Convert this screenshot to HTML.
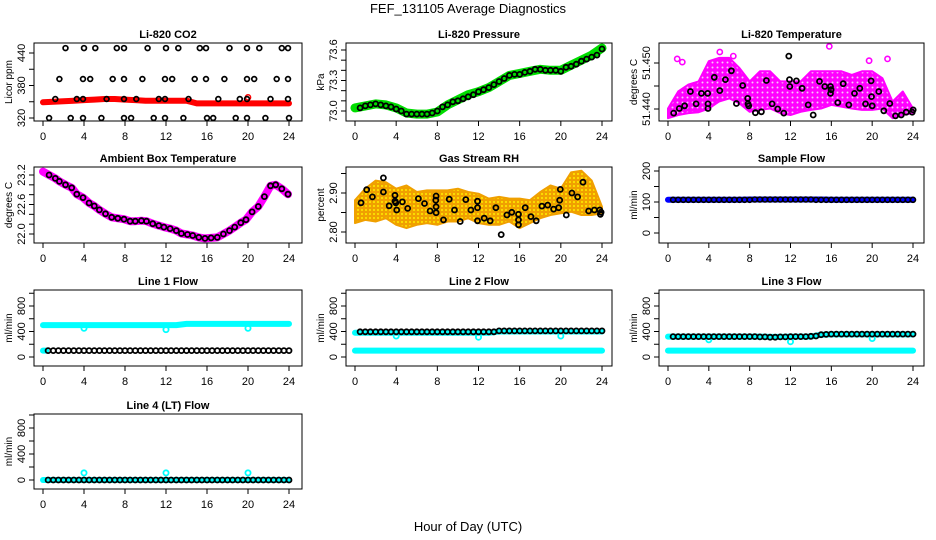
<!DOCTYPE html>
<html><head><meta charset="utf-8">
<style>
html,body{margin:0;padding:0;background:#fff;}
svg{display:block;font-family:"Liberation Sans",Arial,sans-serif;}
</style></head>
<body>
<svg id="fig" width="936" height="540" viewBox="0 0 936 540" xmlns="http://www.w3.org/2000/svg">
<defs>
<pattern id="magPat" width="5" height="5" patternUnits="userSpaceOnUse">
<rect width="5" height="5" fill="#ff00ff"/>
<circle cx="2.5" cy="2.5" r="1" fill="#f8c8f8"/>
</pattern>
<pattern id="orPat" width="4" height="4" patternUnits="userSpaceOnUse">
<rect width="4" height="4" fill="#f0a000"/>
<circle cx="2" cy="2" r="1" fill="#ffee00"/>
</pattern>
</defs>
<text x="468" y="13" text-anchor="middle" font-size="13">FEF_131105  Average Diagnostics</text>
<text x="468" y="531" text-anchor="middle" font-size="13">Hour of Day (UTC)</text>
</svg>
<script>
// ---------- data ----------
const hourTicks = [0,4,8,12,16,20,24];
const hourly = [0,1,2,3,4,5,6,7,8,9,10,11,12,13,14,15,16,17,18,19,20,21,22,23,24];
const halfHours = [0.5,1,1.5,2,2.5,3,3.5,4,4.5,5,5.5,6,6.5,7,7.5,8,8.5,9,9.5,10,10.5,11,11.5,12,12.5,13,13.5,14,14.5,15,15.5,16,16.5,17,17.5,18,18.5,19,19.5,20,20.5,21,21.5,22,22.5,23,23.5,24];

// CO2
const co2Red = [349,350,351,352,353,354,355,355,354,353,352,352,352,352,352,347,347,347,347,347,347,347,347,347,347];
const co2TopH = [2.2,4.0,5.1,7.2,7.9,10.2,12.0,13.2,15.3,15.9,18.2,19.9,21.1,23.3,23.9];
const co2MidH = [1.6,3.9,4.6,6.8,7.9,9.7,11.9,12.6,14.8,15.9,17.7,19.9,20.6,22.8,23.9];
const co2BandH = [1.2,3.3,3.9,6.2,7.9,9.1,11.3,11.9,14.2,17.1,19.2,19.9,22.2,23.9];
const co2LowH = [0.6,2.7,3.9,5.7,7.9,8.6,10.8,11.9,13.7,16.0,16.6,18.8,19.9,21.7,24.0];
const co2Levels = [449,392,355,320];

// Pressure
const presGreen = [73.03,73.05,73.07,73.06,73.03,72.98,72.97,72.97,72.99,73.06,73.11,73.16,73.19,73.23,73.29,73.35,73.37,73.39,73.41,73.40,73.40,73.45,73.50,73.55,73.62];
const presBlack = [73.03,73.05,73.06,73.07,73.06,73.05,73.04,73.02,73.00,72.97,72.97,72.97,72.97,72.97,72.98,73.00,73.04,73.06,73.09,73.10,73.12,73.14,73.16,73.19,73.21,73.23,73.26,73.29,73.32,73.35,73.36,73.36,73.38,73.39,73.41,73.41,73.40,73.40,73.40,73.39,73.43,73.44,73.46,73.49,73.51,73.53,73.55,73.61];

// Li-820 temperature
const ltLo = [51.4380,51.4387,51.4391,51.4393,51.4401,51.4416,51.4423,51.4412,51.4394,51.4398,51.4401,51.4391,51.4387,51.4394,51.4398,51.4401,51.4409,51.4405,51.4401,51.4398,51.4398,51.4401,51.4380,51.4387,51.4391];
const ltHi = [51.4401,51.4438,51.4453,51.4460,51.4504,51.4511,51.4511,51.4489,51.4460,51.4482,51.4482,51.4460,51.4460,51.4460,51.4482,51.4482,51.4482,51.4482,51.4474,51.4482,51.4482,51.4467,51.4416,51.4438,51.4401];
const ltOutH = [0.9,1.4,5.07,6.4,15.8,19.7,21.5];
const ltOutV = [51.4509,51.4502,51.4524,51.4515,51.4536,51.4505,51.4509];
const ltBlackH = [0.56,1.11,1.63,2.19,2.75,3.27,3.89,3.92,3.92,4.54,5.07,5.62,6.21,6.70,7.32,7.81,7.84,7.91,8.56,9.15,9.64,10.2,10.75,11.34,11.83,11.9,11.93,12.58,13.14,13.73,14.22,14.84,15.36,15.92,15.92,15.98,16.63,17.16,17.71,18.27,18.79,19.35,19.9,19.93,20.0,20.65,21.14,21.73,22.29,22.84,23.33,23.92,24.02];
const ltBlackV = [51.4391,51.4401,51.4407,51.4438,51.4411,51.4434,51.4434,51.4411,51.4401,51.4469,51.4440,51.4464,51.4483,51.4412,51.4451,51.4423,51.4411,51.4407,51.4392,51.4394,51.4462,51.4411,51.4400,51.4391,51.4515,51.4464,51.4449,51.4461,51.4445,51.4409,51.4387,51.4460,51.4449,51.4449,51.4434,51.4442,51.4414,51.4455,51.4409,51.4434,51.4445,51.4411,51.4461,51.4427,51.4407,51.4438,51.4396,51.4412,51.4385,51.4387,51.4393,51.4393,51.4398];

// Ambient box temperature
const ambH = [0,0.6,1.2,1.6,2.2,2.8,3.3,3.9,4.5,5,5.5,6.1,6.7,7.3,7.9,8.5,9,9.6,10.1,10.7,11.3,11.8,12.4,13,13.5,14.1,14.6,15.2,15.8,16.4,17,17.6,18.2,18.7,19.3,19.8,20.4,21,21.6,22.2,22.7,23.3,23.9];
const ambV = [23.27,23.2,23.13,23.07,23.0,22.94,22.81,22.74,22.63,22.57,22.49,22.41,22.34,22.32,22.30,22.26,22.26,22.27,22.26,22.21,22.17,22.14,22.11,22.07,22.01,21.99,21.97,21.93,21.91,21.92,21.93,22.0,22.07,22.14,22.23,22.29,22.45,22.56,22.76,22.98,23.0,22.92,22.81];

// Gas stream RH
const rhLo = [2.8227,2.8311,2.8269,2.8353,2.8185,2.8101,2.8185,2.8227,2.8185,2.8269,2.8269,2.8353,2.8227,2.8185,2.8185,2.8269,2.8101,2.8227,2.8353,2.8437,2.8479,2.8521,2.8437,2.8437,2.8479];
const rhHi = [2.8815,2.9109,2.9319,2.9277,2.9109,2.9193,2.9025,2.9067,2.9067,2.9067,2.9109,2.9025,2.8983,2.8857,2.8899,2.8857,2.8857,2.8815,2.9025,2.9193,2.9109,2.9529,2.9571,2.9319,2.8647];
const rhBlackH = [0.58,1.14,1.69,2.76,2.76,3.31,3.89,3.89,3.96,4.05,4.61,5.12,6.16,6.75,7.30,7.85,7.88,7.88,7.88,8.60,9.15,9.67,10.22,10.77,11.26,11.90,11.90,11.90,12.55,13.14,13.69,14.21,14.76,15.24,15.89,15.89,15.89,16.54,17.09,17.61,18.16,18.72,19.30,19.79,19.89,19.95,20.53,21.08,21.63,22.15,22.70,23.26,23.78,23.84,23.91];
const rhBlackV = [2.8748,2.9084,2.8899,2.9387,2.9025,2.8672,2.8941,2.8790,2.8748,2.8563,2.8773,2.8605,2.8857,2.8731,2.8538,2.8815,2.8924,2.8647,2.8496,2.8311,2.8840,2.8563,2.8269,2.8832,2.8563,2.8622,2.8790,2.8286,2.8353,2.8286,2.8622,2.7933,2.8437,2.8504,2.8454,2.8311,2.8185,2.8622,2.8395,2.8286,2.8664,2.8689,2.8588,2.8622,2.8815,2.9092,2.8437,2.9000,2.8899,2.9277,2.8538,2.8563,2.8563,2.8454,2.8504];

// Flows
const sampleBlue = [107,107,107,107,107,107,107,107,108,108,108,108,108,108,108,108,107,107,107,107,107,107,107,107,107];
const sampleBlack = [107,107,107,107,107,107,107,107,107,107,107,107,107,107,107,107,108,108,108,108,108,108,108,108,108,108,108,108,107,107,107,107,107,107,107,107,107,107,107,107,107,107,107,107,107,107,107,107];
const l1CyanHi = [500,500,500,500,500,500,500,500,500,500,500,500,500,500,520,520,520,520,520,520,520,520,520,520,520];
const l1CyanLoH = [0,0.3];
const l1CyanLoV = [100,100];
const l1DipH = [4,12,20];
const l1DipV = [450,430,450];
const l1Black = [100,100,100,100,100,100,100,100,100,100,100,100,100,100,100,100,100,100,100,100,100,100,100,100,100,100,100,100,100,100,100,100,100,100,100,100,100,100,100,100,100,100,100,100,100,100,100,100];
const l2CyanHi = [380,380,380,380,380,380,380,380,380,380,380,380,380,380,400,400,400,400,400,400,400,400,400,400,400];
const l2CyanLo = [100,100,100,100,100,100,100,100,100,100,100,100,100,100,100,100,100,100,100,100,100,100,100,100,100];
const l2DipH = [4,12,20];
const l2DipV = [330,310,330];
const l2Black = [395,395,395,395,395,395,395,395,395,395,395,395,395,395,395,395,395,395,395,395,395,395,395,395,395,395,395,410,410,410,410,410,410,410,410,410,410,410,410,410,410,410,410,410,410,410,410,410];
const l3CyanHi = [320,320,320,320,320,320,320,320,320,320,315,315,320,320,320,350,355,355,355,355,355,355,355,355,355];
const l3CyanLo = [100,100,100,100,100,100,100,100,100,100,100,100,100,100,100,100,100,100,100,100,100,100,100,100,100];
const l3DipH = [4,12,20];
const l3DipV = [270,240,290];
const l3Black = [320,320,320,320,320,320,320,320,320,320,320,320,320,320,320,320,320,315,315,310,310,315,315,320,320,320,320,325,330,350,355,360,360,360,360,360,360,360,360,360,360,360,360,360,360,360,360,360];
const l4Cyan = [0,0,0,0,0,0,0,0,0,0,0,0,0,0,0,0,0,0,0,0,0,0,0,0,0];
const l4SpikeH = [4,12,20];
const l4SpikeV = [110,110,110];
const l4Black = [0,0,0,0,0,0,0,0,0,0,0,0,0,0,0,0,0,0,0,0,0,0,0,0,0,0,0,0,0,0,0,0,0,0,0,0,0,0,0,0,0,0,0,0,0,0,0,0];

// ---------- drawing ----------
const NS = "http://www.w3.org/2000/svg";
const svg = document.getElementById("fig");
const cols = [{L:34,R:302,x0:43,x24:289},{L:346,R:612,x0:355,x24:602},{L:659,R:924,x0:668,x24:913}];
const rows = [{T:43,B:121},{T:167,B:243},{T:290,B:366},{T:414,B:489}];
let clipId = 0;

function mk(tag, attrs, parent){
  const e = document.createElementNS(NS, tag);
  for (const k in attrs) e.setAttribute(k, attrs[k]);
  (parent||svg).appendChild(e);
  return e;
}

function makePanel(key, title, ylab, r, c, yMap, ticks, labels){
  const col = cols[c], row = rows[r];
  const g = mk("g", {});
  
  
  const sx = h => col.x0 + h * (col.x24 - col.x0) / 24;
  const sy = v => yMap[1] + (v - yMap[0]) * (yMap[3] - yMap[1]) / (yMap[2] - yMap[0]);
  const cx = (col.L + col.R) / 2;
  const t = mk("text", {x:cx, y:row.T - 5, "text-anchor":"middle", "font-size":11, "font-weight":"bold"}, g);
  t.textContent = title;
  
  
  const yl = mk("text", {x:0, y:0, "text-anchor":"middle", "font-size":10, transform:`translate(${col.L-22},${(row.T+row.B)/2}) rotate(-90)`}, g);
  yl.textContent = ylab;
  
  
  hourTicks.forEach(h => {
    const tk = mk("line", {x1:sx(h), x2:sx(h), y1:row.B, y2:row.B+5, stroke:"#000", "stroke-width":1}, g);
    
    
    const tl = mk("text", {x:sx(h), y:row.B+19, "text-anchor":"middle", "font-size":11}, g);
    tl.textContent = h;
    
    
  });
  ticks.forEach(v => {
    const tk = mk("line", {x1:col.L-5, x2:col.L, y1:sy(v), y2:sy(v), stroke:"#000", "stroke-width":1}, g);
    
    
  });
  labels.forEach(v => {
    const tl = mk("text", {x:0, y:0, "text-anchor":"middle", "font-size":11, transform:`translate(${col.L-9},${sy(v)}) rotate(-90)`}, g);
    tl.textContent = v;
    
    
  });
  clipId++;
  const cp = mk("clipPath", {id:"cp"+clipId}, g);
  mk("rect", {x:col.L, y:row.T, width:col.R-col.L, height:row.B-row.T}, cp);
  const plot = mk("g", {"clip-path":`url(#cp${clipId})`}, g);
  
  
  const box = mk("rect", {x:col.L, y:row.T, width:col.R-col.L, height:row.B-row.T, fill:"none", stroke:"#000", "stroke-width":1}, g);
  
  
  return {g, plot, sx, sy, key};
}

function band(p, xs, ys, color, w, name){
  const pts = xs.map((h,i) => p.sx(h).toFixed(1) + "," + p.sy(ys[i]).toFixed(1)).join(" ");
  const e = mk("polyline", {points:pts, fill:"none", stroke:color, "stroke-width":w, "stroke-linejoin":"round", "stroke-linecap":"round"}, p.plot);
  
  
}
function envelope(p, xs, lo, hi, fill, stroke, name){
  const a = xs.map((h,i) => p.sx(h).toFixed(1) + "," + p.sy(hi[i]).toFixed(1));
  const b = xs.map((h,i) => p.sx(h).toFixed(1) + "," + p.sy(lo[i]).toFixed(1)).reverse();
  const e = mk("polygon", {points:a.concat(b).join(" "), fill:fill, stroke:stroke, "stroke-width":2, "stroke-linejoin":"round"}, p.plot);
  
  
}
function points(p, xs, ys, color, r, sw, name, fill){
  xs.forEach((h,i) => {
    const e = mk("circle", {cx:p.sx(h).toFixed(1), cy:p.sy(ys[i]).toFixed(1), r:r, fill:fill||"none", stroke:color, "stroke-width":sw}, p.plot);
    
    
  });
}
function constPts(xs, v){ return xs.map(() => v); }

// Li-820 CO2
let p = makePanel("co2", "Li-820 CO2", "Licor ppm", 0, 0, [440,53,320,118], [320,350,380,410,440], [320,380,440]);
band(p, hourly, co2Red, "#ff0000", 6, "red-series");
points(p, [20], [358], "#ff0000", 2.6, 1.5, "red-outlier");
points(p, co2TopH, constPts(co2TopH, co2Levels[0]), "#000", 2.4, 1.7, "black-point");
points(p, co2MidH, constPts(co2MidH, co2Levels[1]), "#000", 2.4, 1.7, "black-point");
points(p, co2BandH, constPts(co2BandH, co2Levels[2]), "#000", 2.4, 1.7, "black-point");
points(p, co2LowH, constPts(co2LowH, co2Levels[3]), "#000", 2.4, 1.7, "black-point");

// Pressure
p = makePanel("pressure", "Li-820 Pressure", "kPa", 0, 1, [73.6,50,73.0,111], [73.0,73.1,73.2,73.3,73.4,73.5,73.6], ["73.0","73.3","73.6"]);
band(p, hourly, presGreen, "#00dd00", 9, "green-series");
points(p, halfHours, presBlack, "#000", 2.5, 1.8, "black-point");

// Li-820 temperature
p = makePanel("li820-temp", "Li-820 Temperature", "degrees C", 0, 2, [51.450,63,51.440,109], [51.440,51.445,51.450], ["51.440","51.450"]);
envelope(p, hourly, ltLo, ltHi, "url(#magPat)", "#ff00ff", "magenta-series");
points(p, ltOutH, ltOutV, "#ff00ff", 2.6, 1.6, "magenta-point");
points(p, ltBlackH, ltBlackV, "#000", 2.5, 1.8, "black-point");

// Ambient box temperature
p = makePanel("ambient", "Ambient Box Temperature", "degrees C", 1, 0, [23.2,175,22.0,234], [22.0,22.2,22.4,22.6,22.8,23.0,23.2], ["22.0","22.6","23.2"]);
band(p, ambH, ambV, "#ff00ff", 8, "magenta-series");
points(p, ambH.slice(1), ambV.slice(1), "#000", 2.5, 1.8, "black-point");

// Gas stream RH
p = makePanel("rh", "Gas Stream RH", "percent", 1, 1, [2.90,193,2.80,232], [2.80,2.85,2.90,2.95], ["2.80","2.90"]);
envelope(p, hourly, rhLo, rhHi, "url(#orPat)", "#f0a000", "orange-series");
points(p, rhBlackH, rhBlackV, "#000", 2.5, 1.8, "black-point");

// Sample flow
p = makePanel("sample-flow", "Sample Flow", "ml/min", 1, 2, [200,171,0,233], [0,50,100,150,200], [0,100,200]);
band(p, hourly, sampleBlue, "#0000ff", 6, "blue-series");
points(p, halfHours, sampleBlack, "#000", 2.5, 1.6, "black-point");

const flowTicks = [0,200,400,600,800,1000];
const flowLabels = [0,400,800];

// Line 1
p = makePanel("line1", "Line 1 Flow", "ml/min", 2, 0, [0,357,800,306], flowTicks, flowLabels);
band(p, hourly, l1CyanHi, "#00ffff", 6, "cyan-series");
band(p, l1CyanLoH, l1CyanLoV, "#00ffff", 6, "cyan-series-low");
points(p, l1DipH, l1DipV, "#00ffff", 2.6, 1.8, "cyan-point");
points(p, halfHours, l1Black, "#000", 2.5, 1.8, "black-point");

// Line 2
p = makePanel("line2", "Line 2 Flow", "ml/min", 2, 1, [0,357,800,306], flowTicks, flowLabels);
band(p, hourly, l2CyanHi, "#00ffff", 6, "cyan-series");
band(p, hourly, l2CyanLo, "#00ffff", 6, "cyan-series-low");
points(p, l2DipH, l2DipV, "#00ffff", 2.6, 1.8, "cyan-point");
points(p, halfHours, l2Black, "#000", 2.5, 1.8, "black-point");

// Line 3
p = makePanel("line3", "Line 3 Flow", "ml/min", 2, 2, [0,357,800,306], flowTicks, flowLabels);
band(p, hourly, l3CyanHi, "#00ffff", 6, "cyan-series");
band(p, hourly, l3CyanLo, "#00ffff", 6, "cyan-series-low");
points(p, l3DipH, l3DipV, "#00ffff", 2.6, 1.8, "cyan-point");
points(p, halfHours, l3Black, "#000", 2.5, 1.8, "black-point");

// Line 4
p = makePanel("line4", "Line 4 (LT) Flow", "ml/min", 3, 0, [0,480,800,428], flowTicks, flowLabels);
band(p, hourly, l4Cyan, "#00ffff", 6, "cyan-series");
points(p, l4SpikeH, l4SpikeV, "#00ffff", 2.6, 1.8, "cyan-point");
points(p, halfHours, l4Black, "#000", 2.5, 1.8, "black-point");
</script>
</body></html>
